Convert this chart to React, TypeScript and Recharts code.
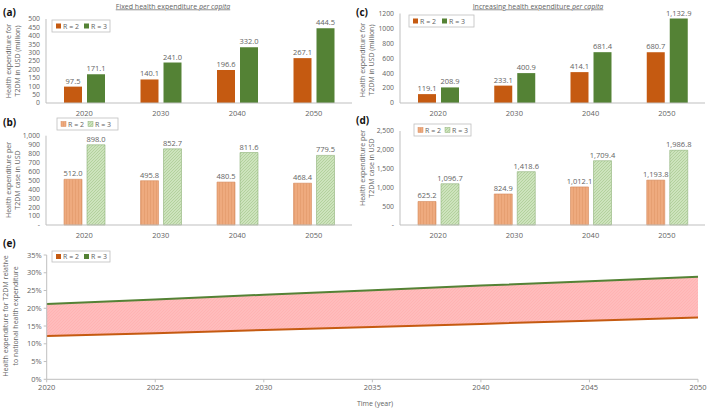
import React from 'react';
import { BarChart, Bar, XAxis, YAxis, LabelList, ComposedChart, Area, Line } from 'recharts';

const years = ['2020', '2030', '2040', '2050'];
const aR2 = [97.5, 140.1, 196.6, 267.1];
const aR3 = [171.1, 241.0, 332.0, 444.5];
const bR2 = [512.0, 495.8, 480.5, 468.4];
const bR3 = [898.0, 852.7, 811.6, 779.5];
const cR2 = [119.1, 233.1, 414.1, 680.7];
const cR3 = [208.9, 400.9, 681.4, 1132.9];
const dR2 = [625.2, 824.9, 1012.1, 1193.8];
const dR3 = [1096.7, 1418.6, 1709.4, 1986.8];

const aTicks = [0, 50, 100, 150, 200, 250, 300, 350, 400, 450, 500];
const bTicks = [0, 100, 200, 300, 400, 500, 600, 700, 800, 900, 1000];
const cTicks = [0, 200, 400, 600, 800, 1000, 1200];
const dTicks = [0, 500, 1000, 1500, 2000, 2500];

const eYears = [2020, 2025, 2030, 2035, 2040, 2045, 2050];
const eR2 = [12.2, 13.0, 13.9, 14.7, 15.6, 16.5, 17.4];
const eR3 = [21.2, 22.5, 23.8, 25.1, 26.4, 27.6, 28.9];
const eTicks = [0, 5, 10, 15, 20, 25, 30, 35];

const FONT = '"Open Sans", "Noto Sans", sans-serif';
const TXT = '#636363';
const AX = '#bfbfbf';
const OR = '#c55a11';
const GR = '#548235';

const mk = (r2: number[], r3: number[]) => years.map((y, i) => ({ year: y, r2: r2[i], r3: r3[i] }));
const aData = mk(aR2, aR3);
const bData = mk(bR2, bR3);
const cData = mk(cR2, cR3);
const dData = mk(dR2, dR3);
const eData = eYears.map((y, i) => ({ year: y, r2: eR2[i], r3: eR3[i], range: [eR2[i], eR3[i]] }));

const f1 = (v: number) => v.toLocaleString('en-US', { minimumFractionDigits: 1, maximumFractionDigits: 1 });
const fInt = (v: number) => String(v);
const fComma = (v: number) => (v === 0 ? '-' : v.toLocaleString('en-US'));

const tickStyle = { fontSize: 7.5, fill: TXT, fontFamily: FONT };
const yTickStyle = { fontSize: 6.8, fill: TXT, fontFamily: FONT };

const barLabel = (props: any) => {
  const { x, y, width, value } = props;
  return (
    <text x={x + width / 2} y={y - 3} textAnchor="middle" fontSize={7.5} fill={TXT} fontFamily={FONT}>
      {f1(value)}
    </text>
  );
};

function BarPanel(p: any) {
  return (
    <div style={{ position: 'absolute', left: p.left, top: p.top }}>
      <BarChart width={p.width} height={p.height} data={p.data} margin={p.margin} barGap={5} barSize={18} barCategoryGap="20%">
        <XAxis dataKey="year" height={p.xH} tickLine={false} axisLine={{ stroke: AX }} tick={tickStyle} interval={0} />
        <YAxis width={46} domain={p.domain} ticks={p.ticks} tickFormatter={p.fmt} tickLine={false} tickSize={4} axisLine={{ stroke: AX }} tick={yTickStyle} interval={0} />
        <Bar dataKey="r2" fill={p.f2} stroke={p.s2} strokeWidth={p.sw} isAnimationActive={false}>
          <LabelList dataKey="r2" content={barLabel} />
        </Bar>
        <Bar dataKey="r3" fill={p.f3} stroke={p.s3} strokeWidth={p.sw} isAnimationActive={false}>
          <LabelList dataKey="r3" content={barLabel} />
        </Bar>
      </BarChart>
    </div>
  );
}

function LegendBox(p: any) {
  const { x, y, w, h, c2, c3, g1, g2 } = p;
  const cy = y + h / 2;
  return (
    <g>
      <rect x={x} y={y} width={w} height={h} fill="#fff" stroke={AX} strokeWidth={0.8} />
      <rect x={x + 4} y={cy - 2.5} width={5} height={5} fill={c2} stroke={p.s2} strokeWidth={0.5} />
      <text x={x + 11} y={cy} dominantBaseline="central" fontSize={7} fill={TXT} fontFamily={FONT}>R = 2</text>
      <rect x={x + g1} y={cy - 2.5} width={5} height={5} fill={c3} stroke={p.s3} strokeWidth={0.5} />
      <text x={x + g2} y={cy} dominantBaseline="central" fontSize={7} fill={TXT} fontFamily={FONT}>R = 3</text>
    </g>
  );
}

function YLabel({ x1, x2, cy, l1, l2 }: any) {
  return (
    <g>
      <text transform={`translate(${x1},${cy}) rotate(-90)`} textAnchor="middle" dominantBaseline="central" fontSize={7} fill={TXT} fontFamily={FONT}>{l1}</text>
      <text transform={`translate(${x2},${cy}) rotate(-90)`} textAnchor="middle" dominantBaseline="central" fontSize={7} fill={TXT} fontFamily={FONT}>{l2}</text>
    </g>
  );
}

function Title({ x, y, lead }: any) {
  return (
    <text x={x} y={y} textAnchor="middle" fontSize={7} fill={TXT} fontFamily={FONT} textDecoration="underline" style={{ textDecoration: 'underline' }}>
      {lead}
      <tspan fontStyle="italic">per capita</tspan>
    </text>
  );
}

export default function App() {
  return (
    <div style={{ position: 'absolute', left: 0, top: 0, width: 709, height: 408, background: '#fff', overflow: 'hidden' }}>
      <svg width={0} height={0} style={{ position: 'absolute' }}>
        <defs>
          <pattern id="orHatch" width="3" height="3" patternUnits="userSpaceOnUse">
            <rect width="3" height="3" fill="#eeaa7e" />
            <rect x="0" width="0.7" height="3" fill="#e39a6c" />
          </pattern>
          <pattern id="grHatch" width="3" height="3" patternUnits="userSpaceOnUse">
            <rect width="3" height="3" fill="#cde3bd" />
            <path d="M0,3 L3,0" stroke="#a8c98f" strokeWidth="0.7" />
          </pattern>
          <pattern id="pinkHatch" width="3" height="3" patternUnits="userSpaceOnUse">
            <rect width="3" height="3" fill="#ffbcbc" />
            <path d="M0,3 L3,0" stroke="#ffadad" strokeWidth="0.6" />
          </pattern>
        </defs>
      </svg>

      <BarPanel left={0} top={0} width={354} height={120} data={aData} margin={{ top: 19, right: 2, left: 0, bottom: 0 }} xH={17}
        domain={[0, 500]} ticks={aTicks} fmt={fInt} f2={OR} f3={GR} s2="none" s3="none" sw={0} />
      <BarPanel left={354} top={0} width={355} height={120} data={cData} margin={{ top: 13.5, right: 4, left: 0, bottom: 0 }} xH={17}
        domain={[0, 1200]} ticks={cTicks} fmt={fInt} f2={OR} f3={GR} s2="none" s3="none" sw={0} />
      <BarPanel left={0} top={118} width={354} height={122} data={bData} margin={{ top: 17.7, right: 2, left: 0, bottom: 0 }} xH={15}
        domain={[0, 1000]} ticks={bTicks} fmt={fComma} f2="url(#orHatch)" f3="url(#grHatch)" s2="#d58a5c" s3="#8fb278" sw={0.6} />
      <BarPanel left={354} top={118} width={355} height={122} data={dData} margin={{ top: 13, right: 4, left: 0, bottom: 0 }} xH={15}
        domain={[0, 2500]} ticks={dTicks} fmt={fComma} f2="url(#orHatch)" f3="url(#grHatch)" s2="#d58a5c" s3="#8fb278" sw={0.6} />

      <div style={{ position: 'absolute', left: 0, top: 240 }}>
        <ComposedChart width={709} height={168} data={eData} margin={{ top: 15, right: 11, left: 0, bottom: 0 }}>
          <XAxis dataKey="year" type="number" domain={[2020, 2050]} ticks={eYears} height={28.7} tickSize={3} tickLine={{ stroke: AX }} axisLine={{ stroke: AX }} tick={tickStyle} interval={0} />
          <YAxis width={46.7} domain={[0, 35]} ticks={eTicks} tickFormatter={(v: number) => `${v}%`} tickSize={3} tickLine={{ stroke: AX }} axisLine={{ stroke: AX }} tick={tickStyle} interval={0} />
          <Area type="linear" dataKey="range" stroke="none" fill="url(#pinkHatch)" fillOpacity={1} isAnimationActive={false} />
          <Line type="linear" dataKey="r3" stroke={GR} strokeWidth={2} dot={false} isAnimationActive={false} />
          <Line type="linear" dataKey="r2" stroke={OR} strokeWidth={2} dot={false} isAnimationActive={false} />
        </ComposedChart>
      </div>

      <svg width={709} height={408} style={{ position: 'absolute', left: 0, top: 0, pointerEvents: 'none' }}>
        <text x={3} y={16} fontSize={10} fontWeight="bold" fill="#111" fontFamily={FONT}>(a)</text>
        <text x={356} y={16} fontSize={10} fontWeight="bold" fill="#111" fontFamily={FONT}>(c)</text>
        <text x={3} y={126} fontSize={10} fontWeight="bold" fill="#111" fontFamily={FONT}>(b)</text>
        <text x={356} y={124} fontSize={10} fontWeight="bold" fill="#111" fontFamily={FONT}>(d)</text>
        <text x={3} y={247} fontSize={10} fontWeight="bold" fill="#111" fontFamily={FONT}>(e)</text>

        <Title x={173} y={8.5} lead="Fixed health expenditure " />
        <Title x={538} y={8.5} lead="Increasing health expenditure " />

        <YLabel x1={8.5} x2={17.5} cy={61} l1="Health expenditure for" l2="T2DM in USD (million)" />
        <YLabel x1={362} x2={371} cy={60} l1="Health expenditure for" l2="T2DM in USD (million)" />
        <YLabel x1={8.5} x2={17.5} cy={180} l1="Health expenditure per" l2="T2DM case in USD" />
        <YLabel x1={362} x2={371} cy={168} l1="Health expenditure per" l2="T2DM case in USD" />
        <YLabel x1={5} x2={15} cy={316} l1="Health expenditure for T2DM relative" l2="to national health expenditure" />

        <text x={357} y={406} fontSize={7} fill={TXT} fontFamily={FONT}>Time (year)</text>

        <LegendBox x={52} y={20} w={58} h={12} c2={OR} c3={GR} s2="none" s3="none" g1={32} g2={39} />
        <LegendBox x={409} y={15} w={65} h={12} c2={OR} c3={GR} s2="none" s3="none" g1={33} g2={40} />
        <LegendBox x={57} y={118} w={61} h={12} c2="url(#orHatch)" c3="url(#grHatch)" s2="#d58a5c" s3="#8fb278" g1={31} g2={38} />
        <LegendBox x={414} y={124} w={57} h={12} c2="url(#orHatch)" c3="url(#grHatch)" s2="#d58a5c" s3="#8fb278" g1={31} g2={38} />
        <LegendBox x={52} y={251} w={58} h={11} c2={OR} c3={GR} s2="none" s3="none" g1={32} g2={39} />
      </svg>
    </div>
  );
}
